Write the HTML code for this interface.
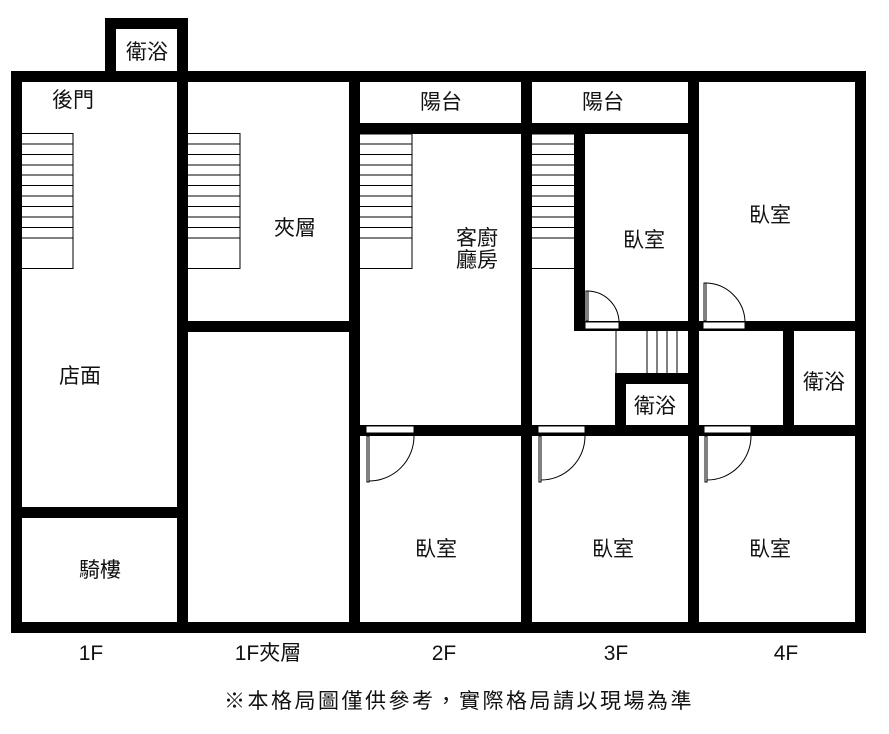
<!DOCTYPE html>
<html><head><meta charset="utf-8"><style>
body{margin:0;background:#fff;}
svg text{font-family:"Liberation Sans","Noto Sans CJK TC",sans-serif;fill:#111;}
</style></head><body>
<svg width="889" height="729" viewBox="0 0 889 729" xmlns="http://www.w3.org/2000/svg">
<g fill="#000">
<rect x="105" y="18" width="83" height="11"/>
<rect x="105" y="18" width="11" height="60"/>
<rect x="177" y="18" width="11" height="60"/>
<rect x="11" y="71" width="855" height="11"/>
<rect x="11" y="71" width="11" height="562"/>
<rect x="855" y="71" width="11" height="562"/>
<rect x="11" y="622" width="855" height="11"/>
<rect x="177" y="71" width="11" height="562"/>
<rect x="349" y="71" width="11" height="562"/>
<rect x="521" y="71" width="11" height="562"/>
<rect x="688" y="71" width="11" height="562"/>
<rect x="11" y="507" width="177" height="11"/>
<rect x="177" y="321" width="183" height="11"/>
<rect x="349" y="123" width="183" height="11"/>
<rect x="349" y="425" width="183" height="11"/>
<rect x="521" y="123" width="178" height="11"/>
<rect x="574" y="123" width="11" height="208"/>
<rect x="574" y="321" width="125" height="10"/>
<rect x="615" y="373" width="11" height="63"/>
<rect x="615" y="373" width="84" height="11"/>
<rect x="521" y="425" width="178" height="11"/>
<rect x="688" y="321" width="178" height="10"/>
<rect x="783" y="321" width="11" height="115"/>
<rect x="688" y="425" width="178" height="11"/>
</g>
<g fill="#fff" stroke="#000" stroke-width="1">
<rect x="585" y="322" width="34" height="7"/>
<rect x="703" y="322" width="42" height="7"/>
<rect x="366" y="426" width="48" height="7"/>
<rect x="538" y="426" width="47" height="7"/>
<rect x="704" y="426" width="47" height="7"/>
</g>
<g fill="none" stroke="#000" stroke-width="1">
<rect x="586" y="291" width="2" height="30"/>
<path d="M588 291 A32 32 0 0 1 619 321"/>
<rect x="704" y="283" width="2" height="38"/>
<path d="M706 283 A40 40 0 0 1 745 321"/>
<rect x="367" y="436" width="2" height="46"/>
<path d="M414 436 A45 45 0 0 1 369 481"/>
<rect x="539" y="436" width="2" height="46"/>
<path d="M585 436 A44 44 0 0 1 541 480"/>
<rect x="705" y="436" width="2" height="46"/>
<path d="M751 436 A44 44 0 0 1 707 480"/>
</g>
<g fill="none" stroke="#000" stroke-width="1">
<path d="M22 133.5H73V268.5H22 M22 144H73 M22 154.5H73 M22 165H73 M22 175H73 M22 185.5H73 M22 196H73 M22 206.5H73 M22 217H73 M22 227.5H73 M22 238H73"/>
<path d="M188 133.5H240V268.5H188 M188 144H240 M188 154.5H240 M188 165H240 M188 175H240 M188 185.5H240 M188 196H240 M188 206.5H240 M188 217H240 M188 227.5H240 M188 238H240"/>
<path d="M360 134H412V268.5H360 M360 144H412 M360 154.5H412 M360 165H412 M360 175H412 M360 185.5H412 M360 196H412 M360 206.5H412 M360 217H412 M360 227.5H412 M360 238H412"/>
<path d="M532 134H574 M532 144H574 M532 154.5H574 M532 165H574 M532 175H574 M532 185.5H574 M532 196H574 M532 206.5H574 M532 217H574 M532 227.5H574 M532 238H574 M532 268.5H574"/>
<path d="M616 331V373 M647 331V373 M657 331V373 M667 331V373 M677 331V373"/>
</g>
<g font-size="21" text-anchor="middle">
<text x="147" y="59">衛浴</text>
<text x="73" y="107">後門</text>
<text x="295" y="235">夾層</text>
<text x="80" y="383">店面</text>
<text x="100" y="577">騎樓</text>
<text x="441" y="109">陽台</text>
<text x="603" y="109">陽台</text>
<text x="477" y="245">客廚</text>
<text x="477" y="267">廳房</text>
<text x="644" y="247">臥室</text>
<text x="770" y="222">臥室</text>
<text x="824" y="389">衛浴</text>
<text x="655" y="413">衛浴</text>
<text x="436" y="556">臥室</text>
<text x="613" y="556">臥室</text>
<text x="770" y="556">臥室</text>
<text x="91" y="660">1F</text>
<text x="268" y="660">1F夾層</text>
<text x="444" y="660">2F</text>
<text x="616" y="660">3F</text>
<text x="786" y="660">4F</text>
<text x="459" y="708" letter-spacing="2.5">※本格局圖僅供參考，實際格局請以現場為準</text>
</g>
</svg>
</body></html>
